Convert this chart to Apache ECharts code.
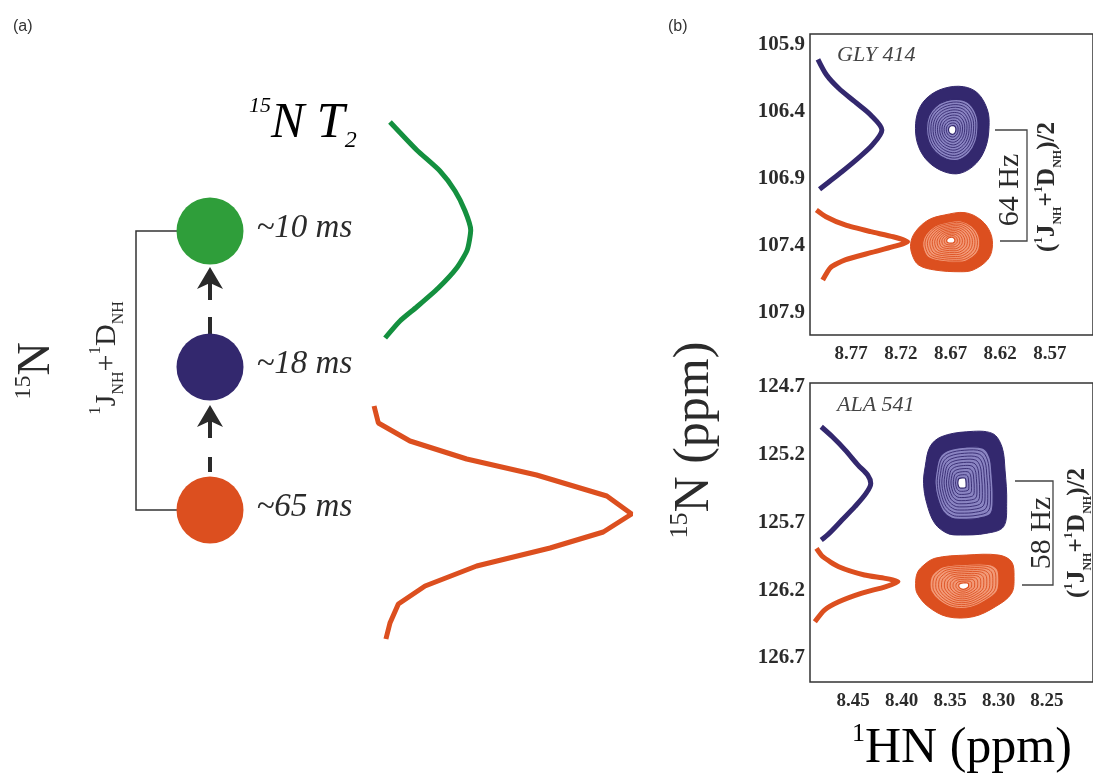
<!DOCTYPE html>
<html><head><meta charset="utf-8">
<script src="https://cdn.jsdelivr.net/npm/echarts@6/dist/echarts.min.js"></script>
<style>html,body{margin:0;padding:0;background:#fff}#c{width:1093px;height:784px}</style>
</head><body><div id="c"></div>
<script>
// ---------- Panel (a) data ----------
const t2Labels = ['~10 ms', '~18 ms', '~65 ms'];
const t2LevelPos = [13.1, 26.7, 41.0];           // relative 15N level position (schematic units)
const t2Colors = ['#2f9e3a', '#33286e', '#dc4f1f'];
// schematic 15N lineshapes: [intensity, position]
const greenLineshape = [[7.4,2.2],[17.3,5.0],[25.9,7.1],[31.5,9.1],[35.2,11.1],[37.3,13.0],[36.0,15.0],[32.1,16.8],[25.3,18.8],[17.3,20.7],[11.1,22.1],[5.6,23.8]];
const orangeLineshape = [[1.5,30.6],[3.1,32.3],[14.8,34.1],[35.8,35.9],[61.7,37.5],[87.7,39.6],[96.9,41.4],[86.4,43.2],[66.7,44.8],[39.5,46.6],[20.4,48.6],[10.5,50.4],[7.4,52.3],[5.9,53.9]];

// ---------- Panel (b) data ----------
const glyHNTicks = [8.77, 8.72, 8.67, 8.62, 8.57];
const glyNTicks = [105.9, 106.4, 106.9, 107.4, 107.9];
const alaHNTicks = [8.45, 8.40, 8.35, 8.30, 8.25];
const alaNTicks = [124.7, 125.2, 125.7, 126.2, 126.7];

const glyBlueTrace = [[8.8035,106.007],[8.7948,106.124],[8.7826,106.223],[8.7664,106.323],[8.7504,106.422],[8.7391,106.534],[8.7487,106.646],[8.7632,106.746],[8.7794,106.846],[8.7922,106.920],[8.8019,106.977]];
const glyOrangeTrace = [[8.8051,107.131],[8.7954,107.181],[8.7761,107.243],[8.7504,107.293],[8.7278,107.331],[8.7133,107.368],[8.7278,107.405],[8.7504,107.450],[8.7761,107.504],[8.7906,107.559],[8.7987,107.654]];
const alaBlueTrace = [[8.4830,124.993],[8.4715,125.067],[8.4582,125.165],[8.4450,125.276],[8.4351,125.349],[8.4319,125.411],[8.4368,125.485],[8.4483,125.583],[8.4616,125.682],[8.4748,125.780],[8.4830,125.829]];
const alaOrangeTrace = [[8.4879,125.890],[8.4814,125.952],[8.4649,126.026],[8.4384,126.087],[8.4170,126.112],[8.4038,126.137],[8.4170,126.174],[8.4418,126.223],[8.4649,126.285],[8.4797,126.346],[8.4896,126.432]];

const glyPeakCenters = [[8.6683,106.534],[8.6698,107.355]];
const glyBlueOutline = [[8.7021,106.385],[8.6924,106.286],[8.6763,106.223],[8.6570,106.211],[8.6425,106.260],[8.6328,106.385],[8.6312,106.510],[8.6344,106.659],[8.6441,106.783],[8.6601,106.857],[8.6763,106.846],[8.6924,106.771],[8.7021,106.659],[8.7053,106.522]];
const glyOrangeOutline = [[8.7101,107.380],[8.7053,107.293],[8.6924,107.206],[8.6763,107.169],[8.6553,107.151],[8.6393,107.206],[8.6296,107.305],[8.6280,107.417],[8.6328,107.504],[8.6473,107.579],[8.6601,107.592],[8.6859,107.579],[8.7021,107.542],[8.7085,107.467]];
const alaPeakCenters = [[8.3381,125.408],[8.3361,126.169]];
const alaBlueOutline = [[8.3757,125.288],[8.3708,125.141],[8.3592,125.067],[8.3329,125.030],[8.3064,125.042],[8.2965,125.141],[8.2933,125.313],[8.2916,125.558],[8.2949,125.731],[8.3131,125.780],[8.3394,125.792],[8.3527,125.780],[8.3658,125.706],[8.3741,125.558],[8.3774,125.411]];
const alaOrangeOutline = [[8.3840,126.075],[8.3790,126.026],[8.3658,125.964],[8.3329,125.940],[8.2998,125.940],[8.2866,125.989],[8.2840,126.100],[8.2866,126.223],[8.3032,126.321],[8.3262,126.395],[8.3527,126.395],[8.3725,126.321],[8.3840,126.223],[8.3856,126.149]];
const contourLevels = [1, 0.7, 0.64, 0.58, 0.52, 0.46, 0.40, 0.34, 0.28, 0.22, 0.16, 0.1];

const BLUE = '#33286e', ORANGE = '#dc4f1f', GREEN = '#14903f';
const SERIF = '"Liberation Serif","Times New Roman",serif';

function contourRender(outlines, colors, tints) {
  return function (params, api) {
    const c = api.coord([api.value(0), api.value(1)]);
    const pts = outlines[params.dataIndex].map(p => api.coord(p));
    const col = colors[params.dataIndex], tint = tints[params.dataIndex];
    const last = contourLevels.length - 1;
    const children = contourLevels.map((lv, i) => {
      const poly = pts.map(p => [c[0] + (p[0] - c[0]) * lv, c[1] + (p[1] - c[1]) * lv]);
      let style;
      if (i === 0) style = { fill: col, stroke: col, lineWidth: 1 };
      else if (i === 1) style = { fill: tint, stroke: col, lineWidth: 1.2 };
      else if (i === last) style = { fill: '#fff', stroke: col, lineWidth: 1.2 };
      else style = { fill: 'none', stroke: col, lineWidth: 0.9 };
      return { type: 'polygon', shape: { points: poly, smooth: 0.35 }, style };
    });
    return { type: 'group', children };
  };
}

const hiddenAxis = (grid, min, max, inverse) => ({ gridIndex: grid, type: 'value', min, max, inverse: !!inverse, show: false });
const tickLabel = { fontFamily: SERIF, fontWeight: 'bold', color: '#2b2b2b' };

function specX(grid, min, max, ticks) {
  return { gridIndex: grid, type: 'value', min, max, inverse: true,
    axisLine: { show: false }, axisTick: { show: false }, splitLine: { show: false },
    axisLabel: Object.assign({ margin: 10, fontSize: 19, customValues: ticks, formatter: v => v.toFixed(2) }, tickLabel) };
}
function specY(grid, min, max, ticks) {
  return { gridIndex: grid, type: 'value', min, max, inverse: true,
    axisLine: { show: false }, axisTick: { show: false }, splitLine: { show: false },
    axisLabel: Object.assign({ margin: 5, fontSize: 21, customValues: ticks, formatter: v => v.toFixed(1) }, tickLabel) };
}

function rotText(x, y, text, rich, extra) {
  return Object.assign({ type: 'text', x, y, rotation: Math.PI / 2,
    style: { text, rich, align: 'center', verticalAlign: 'middle', fill: '#2b2b2b' } }, extra || {});
}

const labelRich = {
  big: { fontFamily: SERIF, fontSize: 30, lineHeight: 40, color: '#2b2b2b' },
  sup: { fontFamily: SERIF, fontSize: 17, lineHeight: 18, verticalAlign: 'top', color: '#2b2b2b' },
  sub: { fontFamily: SERIF, fontSize: 16, lineHeight: 18, verticalAlign: 'bottom', color: '#2b2b2b' }
};
const boldRich = {
  big: { fontFamily: SERIF, fontWeight: 'bold', fontSize: 25, lineHeight: 32, color: '#2b2b2b' },
  sup: { fontFamily: SERIF, fontWeight: 'bold', fontSize: 13, lineHeight: 14, verticalAlign: 'top', color: '#2b2b2b' },
  sub: { fontFamily: SERIF, fontWeight: 'bold', fontSize: 12, lineHeight: 14, verticalAlign: 'bottom', color: '#2b2b2b' }
};
const axisTitleRich = {
  big: { fontFamily: SERIF, fontSize: 50, lineHeight: 56, color: '#2b2b2b' },
  sup: { fontFamily: SERIF, fontSize: 26, lineHeight: 28, verticalAlign: 'top', color: '#2b2b2b' }
};

const arrowColor = '#2a2a2a';
const graphics = [
  { type: 'text', x: 13, y: 19, style: { text: '(a)', font: '16px "Liberation Sans", Arial, sans-serif', fill: '#333' } },
  { type: 'text', x: 668, y: 19, style: { text: '(b)', font: '16px "Liberation Sans", Arial, sans-serif', fill: '#333' } },
  { type: 'text', x: 249, y: 95, style: { text: '{sup|15}{big|N T}{sub|2}', rich: {
      big: { fontFamily: SERIF, fontStyle: 'italic', fontSize: 50, lineHeight: 58, color: '#2b2b2b' },
      sup: { fontFamily: SERIF, fontStyle: 'italic', fontSize: 22, lineHeight: 24, verticalAlign: 'top', color: '#2b2b2b' },
      sub: { fontFamily: SERIF, fontStyle: 'italic', fontSize: 24, lineHeight: 26, verticalAlign: 'bottom', color: '#2b2b2b' } } } },
  rotText(37, 371, '{sup|15}{big|N}', {
      big: { fontFamily: SERIF, fontSize: 46, lineHeight: 50, color: '#2b2b2b' },
      sup: { fontFamily: SERIF, fontSize: 24, lineHeight: 26, verticalAlign: 'top', color: '#2b2b2b' } }),
  rotText(107, 358, '{sup|1}{big|J}{sub|NH}{big|+}{sup|1}{big|D}{sub|NH}', labelRich),
  // bracket linking the coupled states
  { type: 'polyline', shape: { points: [[178, 231], [136, 231], [136, 510], [178, 510]] }, style: { stroke: '#333', lineWidth: 1.5, fill: 'none' } },
  // arrows
  { type: 'line', shape: { x1: 210, y1: 457, x2: 210, y2: 472 }, style: { stroke: arrowColor, lineWidth: 4 } },
  { type: 'line', shape: { x1: 210, y1: 420, x2: 210, y2: 438 }, style: { stroke: arrowColor, lineWidth: 4 } },
  { type: 'polygon', shape: { points: [[210, 405], [223, 427], [210, 421], [197, 427]] }, style: { fill: arrowColor } },
  { type: 'line', shape: { x1: 210, y1: 317, x2: 210, y2: 334 }, style: { stroke: arrowColor, lineWidth: 4 } },
  { type: 'line', shape: { x1: 210, y1: 282, x2: 210, y2: 300 }, style: { stroke: arrowColor, lineWidth: 4 } },
  { type: 'polygon', shape: { points: [[210, 267], [223, 289], [210, 283], [197, 289]] }, style: { fill: arrowColor } },
  // panel (b) texts
  { type: 'text', x: 837, y: 55, style: { text: 'GLY 414', font: 'italic 22px ' + SERIF, fill: '#444', verticalAlign: 'middle' } },
  { type: 'text', x: 837, y: 405, style: { text: 'ALA 541', font: 'italic 22px ' + SERIF, fill: '#444', verticalAlign: 'middle' } },
  { type: 'polyline', shape: { points: [[995, 130], [1027, 130], [1027, 241], [1000, 241]] }, style: { stroke: '#444', lineWidth: 1.3, fill: 'none' } },
  { type: 'polyline', shape: { points: [[1015, 481], [1053, 481], [1053, 585], [1022, 585]] }, style: { stroke: '#444', lineWidth: 1.3, fill: 'none' } },
  rotText(1010, 190, '64 Hz', null, { style: { text: '64 Hz', font: '30px ' + SERIF, fill: '#2b2b2b', align: 'center', verticalAlign: 'middle' } }),
  rotText(1042, 533, '58 Hz', null, { style: { text: '58 Hz', font: '30px ' + SERIF, fill: '#2b2b2b', align: 'center', verticalAlign: 'middle' } }),
  rotText(1048, 187, '{big|(}{sup|1}{big|J}{sub|NH}{big|+}{sup|1}{big|D}{sub|NH}{big|)/2}', boldRich),
  rotText(1078, 533, '{big|(}{sup|1}{big|J}{sub|NH}{big|+}{sup|1}{big|D}{sub|NH}{big|)/2}', boldRich),
  rotText(695, 440, '{sup|15}{big|N (ppm)}', axisTitleRich),
  { type: 'text', x: 852, y: 721, style: { text: '{sup|1}{big|HN (ppm)}', rich: axisTitleRich } }
];

const chart = echarts.init(document.getElementById('c'), null, { renderer: 'canvas' });
chart.setOption({
  animation: false,
  backgroundColor: '#fff',
  grid: [
    { left: 150, top: 100, width: 120, height: 560, show: false },
    { left: 370, top: 100, width: 270, height: 560, show: false },
    { left: 810, top: 34, width: 295, height: 301, show: true, borderColor: '#333', borderWidth: 1.5, backgroundColor: 'transparent' },
    { left: 810, top: 383, width: 295, height: 299, show: true, borderColor: '#333', borderWidth: 1.5, backgroundColor: 'transparent' }
  ],
  xAxis: [
    hiddenAxis(0, 0, 1),
    hiddenAxis(1, 0, 100),
    specX(2, 8.5265, 8.8115, glyHNTicks),
    specX(3, 8.2025, 8.4946, alaHNTicks)
  ],
  yAxis: [
    hiddenAxis(0, 0, 56, true),
    hiddenAxis(1, 0, 56, true),
    specY(2, 105.818, 108.064, glyNTicks),
    specY(3, 124.670, 126.877, alaNTicks)
  ],
  series: [
    { type: 'scatter', xAxisIndex: 0, yAxisIndex: 0, symbolSize: 67,
      data: t2Labels.map((l, i) => ({ value: [0.5, t2LevelPos[i]], name: l, itemStyle: { color: t2Colors[i], opacity: 1 } })),
      label: { show: true, position: 'right', distance: 13, formatter: p => p.name,
        fontFamily: SERIF, fontStyle: 'italic', fontSize: 33, color: '#2b2b2b', offset: [0, -3] } },
    { type: 'line', xAxisIndex: 1, yAxisIndex: 1, data: greenLineshape, symbol: 'none', smooth: 0.2,
      lineStyle: { color: GREEN, width: 5 } },
    { type: 'line', xAxisIndex: 1, yAxisIndex: 1, data: orangeLineshape, symbol: 'none',
      lineStyle: { color: ORANGE, width: 5 } },
    { type: 'line', xAxisIndex: 2, yAxisIndex: 2, data: glyBlueTrace, symbol: 'none', smooth: 0.3,
      lineStyle: { color: BLUE, width: 5 } },
    { type: 'line', xAxisIndex: 2, yAxisIndex: 2, data: glyOrangeTrace, symbol: 'none', smooth: 0.2,
      lineStyle: { color: ORANGE, width: 5 } },
    { type: 'line', xAxisIndex: 3, yAxisIndex: 3, data: alaBlueTrace, symbol: 'none', smooth: 0.3,
      lineStyle: { color: BLUE, width: 5 } },
    { type: 'line', xAxisIndex: 3, yAxisIndex: 3, data: alaOrangeTrace, symbol: 'none', smooth: 0.2,
      lineStyle: { color: ORANGE, width: 5 } },
    { type: 'custom', xAxisIndex: 2, yAxisIndex: 2, data: glyPeakCenters,
      renderItem: contourRender([glyBlueOutline, glyOrangeOutline], [BLUE, ORANGE], ['#8a84c2', '#f29a78']) },
    { type: 'custom', xAxisIndex: 3, yAxisIndex: 3, data: alaPeakCenters,
      renderItem: contourRender([alaBlueOutline, alaOrangeOutline], [BLUE, ORANGE], ['#8a84c2', '#f29a78']) }
  ],
  graphic: graphics
});
</script></body></html>
